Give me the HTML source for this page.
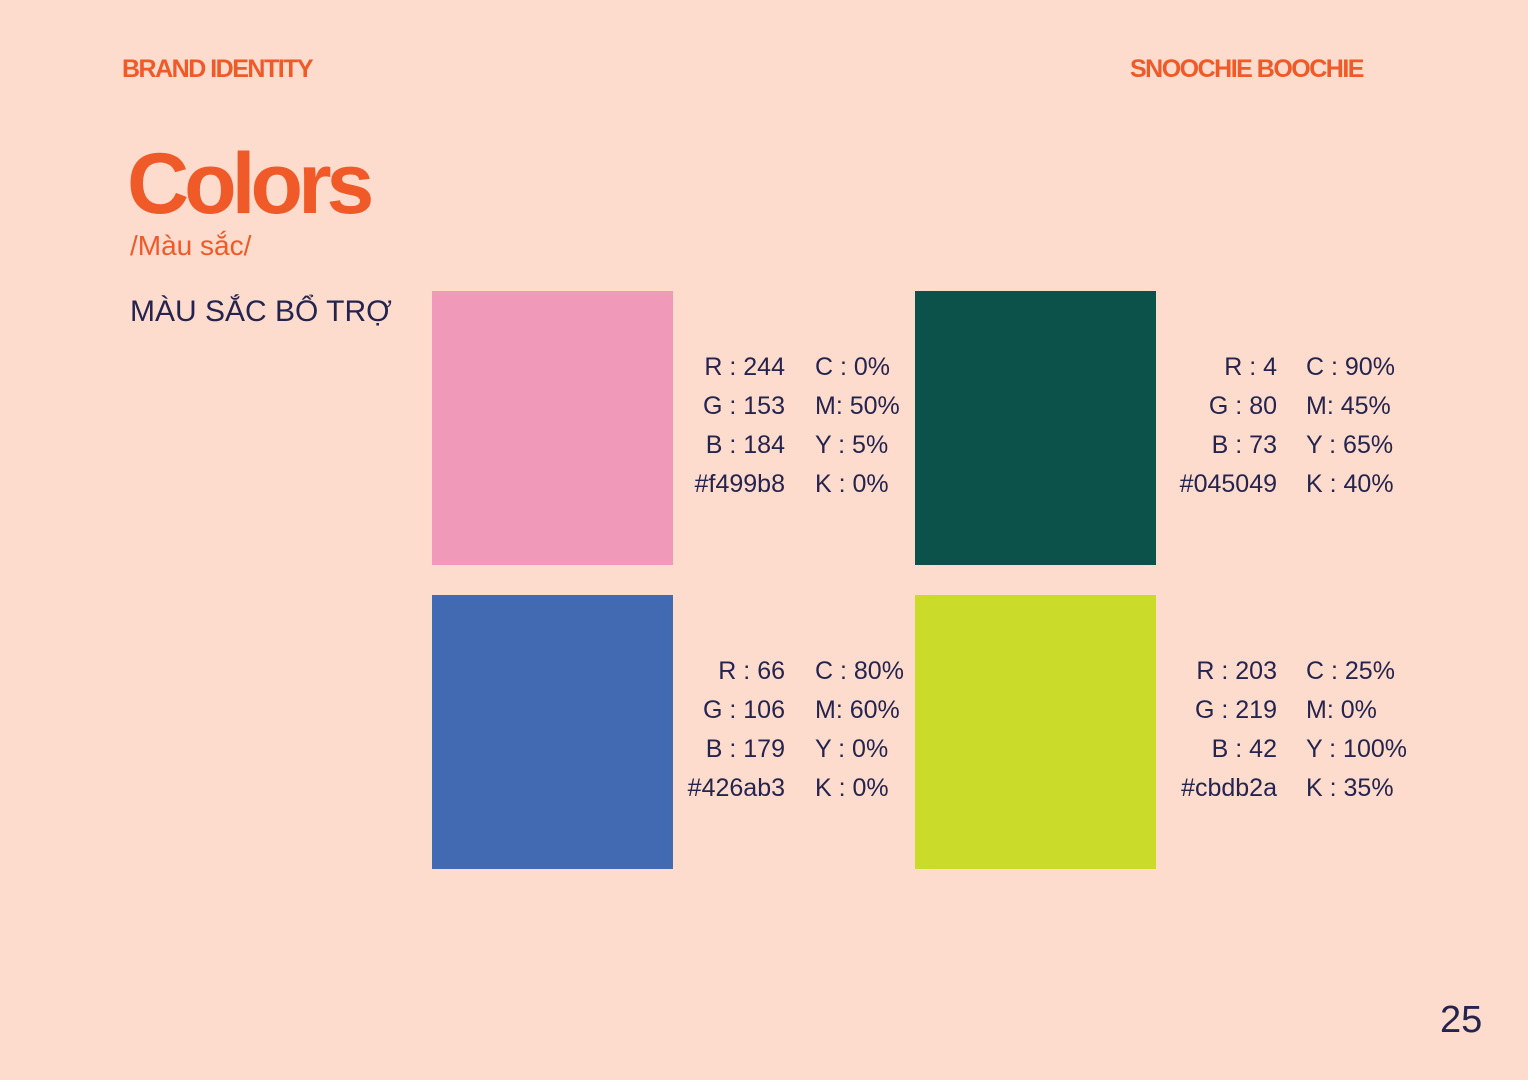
<!DOCTYPE html>
<html><head><meta charset="utf-8"><style>
body{margin:0;width:1528px;height:1080px;background:#fddbcd;position:relative;overflow:hidden;font-family:"Liberation Sans","Noto Sans CJK SC",sans-serif;color:#24244e}
.a{position:absolute;white-space:nowrap}
.hd{font-weight:900;color:#f05a28;font-size:25px;letter-spacing:-1.5px;top:55px}
.sw{position:absolute;width:241px;height:274px}
.v{position:absolute;font-size:25px;line-height:39px}
.r{text-align:right}
</style></head><body>
<div class="a hd" style="left:122px">BRAND IDENTITY</div>
<div class="a hd" style="left:1130px">SNOOCHIE BOOCHIE</div>
<div class="a" style="left:127px;top:135px;font-size:86px;font-weight:900;color:#f05a28;letter-spacing:-5px">Colors</div>
<div class="a" style="left:130px;top:230px;font-size:28px;color:#f05a28">/Màu sắc/</div>
<div class="a" style="left:130px;top:295px;font-size:30px">MÀU SẮC BỔ TRỢ</div>

<div class="sw" style="left:432px;top:291px;background:#f199b8"></div>
<div class="sw" style="left:915px;top:291px;background:#0c514a"></div>
<div class="sw" style="left:432px;top:595px;background:#426ab3"></div>
<div class="sw" style="left:915px;top:595px;background:#cbdb2a"></div>

<div class="v r" style="right:743px;top:348px">R : 244<br>G : 153<br>B : 184<br>#f499b8</div>
<div class="v" style="left:815px;top:348px">C : 0%<br>M: 50%<br>Y : 5%<br>K : 0%</div>
<div class="v r" style="right:251px;top:348px">R : 4<br>G : 80<br>B : 73<br>#045049</div>
<div class="v" style="left:1306px;top:348px">C : 90%<br>M: 45%<br>Y : 65%<br>K : 40%</div>
<div class="v r" style="right:743px;top:652px">R : 66<br>G : 106<br>B : 179<br>#426ab3</div>
<div class="v" style="left:815px;top:652px">C : 80%<br>M: 60%<br>Y : 0%<br>K : 0%</div>
<div class="v r" style="right:251px;top:652px">R : 203<br>G : 219<br>B : 42<br>#cbdb2a</div>
<div class="v" style="left:1306px;top:652px">C : 25%<br>M: 0%<br>Y : 100%<br>K : 35%</div>

<div class="a" style="left:1440px;top:999px;font-size:38px">25</div>
</body></html>
